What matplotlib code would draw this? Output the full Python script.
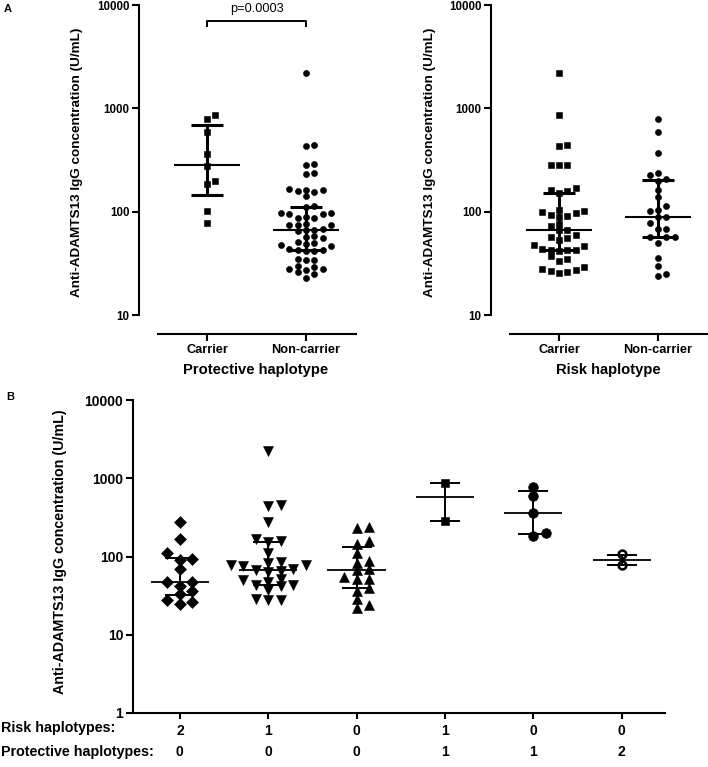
import numpy as np
import matplotlib
matplotlib.use("Agg")
import matplotlib.pyplot as plt
from matplotlib.ticker import FixedLocator, NullLocator

plt.rcParams['font.family'] = ['Liberation Sans', 'DejaVu Sans']
plt.rcParams['font.weight'] = 'bold'

W, H, DPI = 708, 767, 100

# ---- panel A (left): protective haplotype ----
prot_groups = ['Carrier', 'Non-carrier']
prot_carrier = [865, 792, 593, 363, 278, 199, 187, 102, 78]
prot_noncarrier = [2218, 437, 428, 289, 284, 236, 233, 167, 163, 161, 157, 155, 141,
                   114, 112, 96, 96, 95, 94, 88, 87, 86, 76, 75, 74, 74, 68, 67, 66, 65,
                   58, 57, 56, 51, 50, 49, 48, 47, 44, 43, 43, 42, 42, 35, 34, 34, 30, 29,
                   28, 28, 27, 26, 25, 23]
prot_median = [280, 66]
prot_q1 = [144, 43]
prot_q3 = [697, 110]

# ---- panel A (right): risk haplotype ----
risk_groups = ['Carrier', 'Non-carrier']
risk_carrier = [2218, 865, 440, 428, 284, 284, 284, 169, 162, 160, 152, 104, 101, 99, 96,
                93, 90, 88, 76, 72, 67, 66, 60, 57, 55, 53, 48, 47, 44, 43, 43, 43, 42,
                37, 35, 33, 29, 28, 27, 26.5, 26, 25.5]
risk_noncarrier = [792, 589, 366, 237, 228, 205, 200, 161, 139, 114, 103, 101, 89, 88, 78,
                   68, 68, 57, 57, 57, 50, 36, 30, 25, 24]
risk_median = [66, 88.5]
risk_q1 = [43, 57]
risk_q3 = [152, 201]

# ---- panel B: haplotype combinations ----
risk_row = ['2', '1', '0', '1', '0', '0']
prot_row = ['0', '0', '0', '1', '1', '2']
b_groups = [
    [279, 166, 110, 93, 90, 68.6, 47.6, 46.8, 42, 36.6, 33.2, 27.8, 26.4, 24.7],
    [2228, 455, 442, 279, 166, 160, 155, 110, 86, 82, 78, 78, 75, 70, 67, 66, 64, 52, 50,
     47, 43, 43, 42, 37, 29, 28, 28],
    [238, 230, 159, 143, 112, 88, 83, 70, 67, 55, 52, 51, 40, 36, 29, 24, 22],
    [861, 284],
    [780, 593, 363, 201, 184.5],
    [107, 78],
]
b_median = [47.6, 67, 67, 570, 363, 91]
b_q1 = [32.2, 43, 39, 284, 192, 78]
b_q3 = [96.6, 155, 133, 861, 687, 106]

fig = plt.figure(figsize=(W / DPI, H / DPI), dpi=DPI)


def px_axes(x0, y0, x1, y1):
    # box in pixels, measured from the top left corner
    return fig.add_axes([x0 / W, 1 - y1 / H, (x1 - x0) / W, (y1 - y0) / H])


def swarm(ax, xc, vals, step, gap):
    # grid-like beeswarm, columns `step` px apart
    vals = np.asarray(vals, float)
    ppd = ax.transData.transform([(1, 1)])[0][0] - ax.transData.transform([(0, 1)])[0][0]
    ypix = ax.transData.transform(np.column_stack([np.ones(len(vals)), vals]))[:, 1]
    cols = {}
    xs = np.zeros(len(vals))
    for i in np.argsort(vals):
        for k in [0, 1, -1, 2, -2, 3, -3, 4, -4, 5, -5]:
            if all(abs(ypix[i] - y) >= gap for y in cols.get(k, [])):
                cols.setdefault(k, []).append(ypix[i])
                xs[i] = xc + k * step / ppd
                break
    return xs


def summary(ax, x, med, lo, hi, wm, wc, lw_m, lw_e):
    ax.hlines(med, x - wm, x + wm, color='k', lw=lw_m, zorder=5)
    ax.vlines(x, lo, hi, color='k', lw=lw_e, zorder=5)
    ax.hlines([lo, hi], x - wc, x + wc, color='k', lw=lw_e, zorder=5)


def style(ax, yticks, ylabels, tsize, out_left, out_bottom):
    ax.set_yscale('log')
    for s in ['top', 'right']:
        ax.spines[s].set_visible(False)
    for s in ['left', 'bottom']:
        ax.spines[s].set_linewidth(1.5)
    ax.spines['left'].set_position(('outward', out_left))
    ax.spines['bottom'].set_position(('outward', out_bottom))
    ax.yaxis.set_major_locator(FixedLocator(yticks))
    ax.yaxis.set_minor_locator(NullLocator())
    ax.set_yticklabels(ylabels)
    ax.tick_params(width=1.5, length=5, labelsize=tsize, pad=2)
    ax.patch.set_visible(False)


# ---------- panel A ----------
panelA = [
    (px_axes(157.5, 5, 355.5, 315), [prot_carrier, prot_noncarrier], prot_groups,
     prot_median, prot_q1, prot_q3, 'Protective haplotype', 256, 77),
    (px_axes(509.5, 5, 707.5, 315), [risk_carrier, risk_noncarrier], risk_groups,
     risk_median, risk_q1, risk_q3, 'Risk haplotype', 608, 430),
]
for ax, data, groups, med, q1, q3, xlab, xlab_x, ylab_x in panelA:
    ax.set_xlim(-0.5, 1.5)
    ax.set_ylim(10, 10000)
    style(ax, [10, 100, 1000, 10000], ['10', '100', '1000', '10000'], 8.3, 13, 13.5)
    ax.set_xticks([0, 1], labels=groups, fontsize=9.2)
    ax.tick_params(axis='x', pad=2.5)
    for i, (vals, mk) in enumerate(zip(data, ['s', 'o'])):
        xs = swarm(ax, i, vals, 8.3, 6.2)
        ax.plot(xs, vals, ls='none', marker=mk, ms=4.4, color='k', mec='k', mew=0.4,
                zorder=3)
        summary(ax, i, med[i], q1[i], q3[i], 0.33, 0.16, 1.5, 2.2)
    fig.text(xlab_x / W, 1 - 370 / H, xlab, ha='center', va='center', fontsize=10.6)
    fig.text(ylab_x / W, 1 - 162 / H, 'Anti-ADAMTS13 IgG concentration (U/mL)',
             rotation=90, ha='center', va='center', fontsize=9.7)

axA = panelA[0][0]
axA.plot([0, 0, 1, 1], [6300, 7000, 7000, 6300], color='k', lw=1.4, clip_on=False)
axA.text(0.5, 8600, 'p=0.0003', ha='center', va='baseline', fontsize=9.2,
         fontweight='normal', clip_on=False)

fig.text(4 / W, 1 - 12 / H, 'A', fontsize=8, ha='left', va='baseline')
fig.text(6 / W, 1 - 400 / H, 'B', fontsize=8, ha='left', va='baseline')

# ---------- panel B ----------
axB = px_axes(133, 400, 665, 713)
axB.set_xlim(-0.53, 5.49)
axB.set_ylim(1, 10000)
style(axB, [1, 10, 100, 1000, 10000], ['1', '10', '100', '1000', '10000'], 10, 0, 0)
axB.set_xticks(range(6), labels=risk_row, fontsize=10)
axB.tick_params(axis='x', pad=4, length=4)

markers = [('D', 6.2, 'k', 0.4), ('v', 6.8, 'k', 0.4), ('^', 6.8, 'k', 0.4),
           ('s', 6.4, 'k', 0.4), ('o', 7.0, 'k', 0.4), ('o', 5.6, 'w', 1.8)]
for i, vals in enumerate(b_groups):
    mk, ms, fc, mw = markers[i]
    xs = swarm(axB, i, vals, 12.5, 7.2)
    axB.plot(xs, vals, ls='none', marker=mk, ms=ms, mfc=fc, mec='k', mew=mw, zorder=3)
    summary(axB, i, b_median[i], b_q1[i], b_q3[i], 0.33, 0.17, 1.3, 1.4)

for i, t in enumerate(prot_row):
    axB.text(i, -0.125, t, transform=axB.get_xaxis_transform(), ha='center', va='center',
             fontsize=10)
fig.text(1 / W, 1 - 728 / H, 'Risk haplotypes:', ha='left', va='center', fontsize=10.3)
fig.text(1 / W, 1 - 752 / H, 'Protective haplotypes:', ha='left', va='center', fontsize=10.3)
fig.text(60 / W, 1 - 552 / H, 'Anti-ADAMTS13 IgG concentration (U/mL)', rotation=90,
         ha='center', va='center', fontsize=10.3)

fig.savefig('out.png', dpi=DPI)
